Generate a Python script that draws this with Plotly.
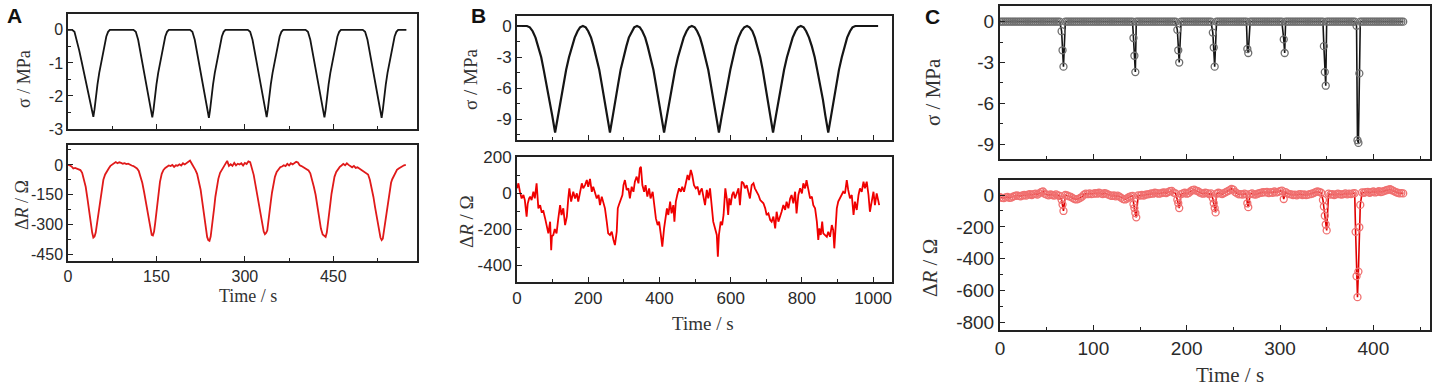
import plotly.graph_objects as go

# ---------------- Panel A ----------------
a_stress_time = [0, 7, 11, 15, 19, 23, 27, 31, 35, 38, 41, 43, 45, 47, 50, 53, 56, 59, 62, 65, 68, 71,
                 111, 115, 119, 123, 126, 129, 133, 136, 139, 141, 143, 145, 147, 150, 153, 156, 159, 162, 165, 168, 171,
                 207, 211, 215, 219, 222, 225, 229, 232, 235, 237, 239, 241, 243, 246, 249, 252, 255, 258, 261, 264, 267,
                 305, 309, 313, 317, 320, 323, 327, 330, 333, 335, 337, 339, 341, 344, 347, 350, 353, 356, 359, 362, 365,
                 403, 407, 411, 415, 418, 421, 425, 428, 431, 433, 435, 437, 439, 442, 445, 448, 451, 454, 457, 460, 463,
                 500, 504, 508, 512, 515, 518, 522, 525, 528, 530, 532, 534, 536, 539, 542, 545, 548, 551, 554, 557, 560, 574]
a_stress = [0, 0, -0.06, -0.3, -0.62, -0.95, -1.3, -1.65, -2.0, -2.3, -2.5, -2.63, -2.4, -2.05, -1.65, -1.3, -1.0, -0.7, -0.42, -0.2, -0.06, 0,
            0, -0.06, -0.3, -0.7, -1.0, -1.3, -1.7, -2.0, -2.3, -2.5, -2.65, -2.42, -2.06, -1.66, -1.3, -1.0, -0.7, -0.42, -0.2, -0.06, 0,
            0, -0.06, -0.3, -0.7, -1.0, -1.3, -1.7, -2.0, -2.3, -2.52, -2.66, -2.42, -2.06, -1.66, -1.3, -1.0, -0.7, -0.42, -0.2, -0.06, 0,
            0, -0.06, -0.3, -0.7, -1.0, -1.3, -1.7, -2.0, -2.3, -2.5, -2.64, -2.4, -2.05, -1.65, -1.3, -1.0, -0.7, -0.42, -0.2, -0.06, 0,
            0, -0.06, -0.3, -0.7, -1.0, -1.3, -1.7, -2.0, -2.3, -2.5, -2.65, -2.42, -2.06, -1.66, -1.3, -1.0, -0.7, -0.42, -0.2, -0.06, 0,
            0, -0.06, -0.3, -0.7, -1.0, -1.3, -1.7, -2.0, -2.3, -2.52, -2.66, -2.42, -2.06, -1.66, -1.3, -1.0, -0.7, -0.42, -0.2, -0.06, 0, 0]

a_res_time = [0, 3, 6, 9, 12, 15, 18, 21, 24, 27, 30, 33, 36, 39, 41, 43, 45, 47, 49, 51, 53, 55, 57, 60, 63, 66, 69, 72, 75, 78,
              81, 84, 87, 90, 93, 96, 99, 102, 105, 108, 111, 114, 117, 120, 123, 126, 129, 132, 135, 138, 140, 142, 144, 146, 148,
              150, 152, 154, 156, 159, 162, 165, 168, 171, 174, 177, 180, 183, 186, 189, 192, 195, 198, 201, 204, 207, 210, 213, 216,
              219, 222, 225, 228, 231, 234, 236, 238, 240, 242, 244, 246, 248, 250, 252, 255, 258, 261, 264, 267, 270, 273, 276, 279,
              282, 285, 288, 291, 294, 297, 300, 303, 306, 309, 312, 315, 318, 321, 324, 327, 330, 332, 334, 336, 338, 340, 342, 344,
              346, 348, 351, 354, 357, 360, 363, 366, 369, 372, 375, 378, 381, 384, 387, 390, 393, 396, 399, 402, 405, 408, 411, 414,
              417, 420, 423, 426, 429, 432, 435, 437, 439, 441, 443, 445, 447, 449, 452, 455, 458, 461, 464, 467, 470, 473, 476, 479,
              482, 485, 488, 491, 494, 497, 500, 503, 506, 509, 512, 515, 518, 521, 524, 527, 530, 532, 534, 536, 538, 540, 542, 544,
              546, 548, 550, 552, 554, 556, 558, 561, 564, 567, 570, 573]
a_res = [0, -2, -8, -18, -15, -20, -22, -26, -40, -70, -110, -170, -240, -300, -340, -365, -360, -340, -300, -255, -205, -160,
         -115, -75, -48, -30, -18, -5, 2, 10, 14, 8, 13, 10, 6, 9, 4, 6, 0, -3, -6, -10, -18, -30, -55, -90, -135, -185, -240,
         -290, -330, -352, -355, -335, -290, -235, -180, -130, -85, -45, -25, -15, -8, -3, -6, 0, -10, -2, -4, 3, -3, 8, 2, 10,
         15, 22, 6, -8, -25, -45, -80, -125, -190, -260, -330, -362, -378, -382, -360, -320, -270, -215, -160, -115, -70, -40,
         -22, -10, 5, 20, -5, 3, -5, 10, -2, 6, 2, 8, -3, 10, 4, 18, 14, -20, -50, -100, -155, -210, -258, -310, -335, -348,
         -342, -330, -290, -240, -185, -140, -100, -60, -35, -22, -12, -8, -2, -6, 5, -3, 8, 2, 10, 16, 12, -2, -6, -12, -15,
         -22, -28, -42, -70, -110, -150, -210, -270, -320, -350, -358, -362, -340, -300, -250, -195, -145, -105, -60, -35, -22,
         -10, -3, 5, -2, 8, 0, -8, -12, -5, -15, -12, -18, -20, -28, -32, -38, -48, -75, -115, -160, -215, -270, -330, -365,
         -378, -370, -330, -290, -245, -190, -150, -115, -90, -72, -60, -45, -35, -25, -18, -12, -5, -2, 0]

# ---------------- Panel B ----------------
b_stress_time = [0, 28, 36, 44, 52, 60, 68, 75, 83, 91, 99, 107,
                 115, 123, 130, 138, 146, 154, 162, 170, 177, 185,
                 193, 200, 208, 215, 223, 231, 238, 246, 253, 261,
                 269, 276, 284, 291, 299, 307, 314, 322, 329, 337,
                 345, 352, 360, 367, 375, 383, 390, 398, 405, 413,
                 421, 429, 436, 444, 452, 460, 468, 476, 483, 491,
                 499, 506, 514, 521, 529, 537, 544, 552, 559, 567,
                 575, 583, 591, 599, 607, 614, 622, 630, 638, 646,
                 653, 661, 668, 675, 683, 690, 697, 704, 712, 719,
                 727, 735, 742, 750, 758, 766, 774, 782, 789, 797,
                 805, 812, 820, 828, 836, 843, 851, 859, 866, 874,
                 882, 889, 897, 904, 912, 920, 927, 935, 942, 950, 1014]
b_stress = [0, 0, -0.13, -0.5, -1.12, -1.97, -3.02, -4.24, -5.62, -7.12, -8.69, -10.3,
            -8.69, -7.12, -5.62, -4.24, -3.02, -1.97, -1.12, -0.5, -0.13, 0,
            -0.13, -0.5, -1.12, -1.97, -3.02, -4.24, -5.62, -7.12, -8.69, -10.3,
            -8.69, -7.12, -5.62, -4.24, -3.02, -1.97, -1.12, -0.5, -0.13, 0,
            -0.13, -0.5, -1.12, -1.97, -3.02, -4.24, -5.62, -7.12, -8.69, -10.3,
            -8.69, -7.12, -5.62, -4.24, -3.02, -1.97, -1.12, -0.5, -0.13, 0,
            -0.13, -0.5, -1.12, -1.97, -3.02, -4.24, -5.62, -7.12, -8.69, -10.3,
            -8.69, -7.12, -5.62, -4.24, -3.02, -1.97, -1.12, -0.5, -0.13, 0,
            -0.13, -0.5, -1.12, -1.97, -3.02, -4.24, -5.62, -7.12, -8.69, -10.3,
            -8.69, -7.12, -5.62, -4.24, -3.02, -1.97, -1.12, -0.5, -0.13, 0,
            -0.13, -0.5, -1.12, -1.97, -3.02, -4.24, -5.62, -7.12, -8.69, -10.3,
            -8.69, -7.12, -5.62, -4.24, -3.02, -1.97, -1.12, -0.5, -0.13, 0, 0]

b_res_time = [0, 4, 8, 13, 18, 22, 27, 30, 34, 37, 41, 46, 50, 55, 60, 65, 69, 74, 79, 83, 88, 93, 96, 98, 102, 106, 111,
              116, 121, 125, 130, 135, 140, 144, 147, 152, 158, 163, 168, 172, 177, 182, 186, 191, 196, 200, 205, 210, 214,
              219, 224, 229, 233, 238, 243, 247, 252, 256, 261, 266, 271, 275, 280, 283, 286, 292, 296, 299, 303, 308, 313,
              317, 322, 327, 331, 336, 341, 345, 348, 352, 357, 361, 366, 371, 375, 381, 386, 390, 395, 399, 404, 408, 413,
              417, 421, 425, 430, 434, 439, 442, 446, 450, 455, 460, 464, 469, 474, 479, 483, 488, 492, 497, 502, 507, 512,
              514, 519, 523, 528, 533, 537, 542, 547, 551, 556, 561, 564, 567, 572, 576, 580, 582, 585, 589, 593, 596, 600,
              604, 608, 612, 617, 622, 626, 631, 636, 640, 645, 650, 654, 659, 664, 668, 673, 678, 683, 687, 692, 697, 701,
              706, 711, 715, 720, 725, 729, 734, 739, 743, 748, 753, 757, 762, 767, 771, 776, 781, 785, 790, 795, 800, 804,
              809, 813, 818, 823, 828, 832, 837, 842, 846, 849, 853, 857, 860, 865, 870, 874, 879, 884, 888, 891, 895, 898,
              902, 907, 912, 916, 921, 926, 930, 935, 940, 945, 949, 954, 959, 963, 968, 973, 977, 982, 987, 991, 996, 1001,
              1005, 1010, 1015, 1017]
b_res = [26, 54, 10, -30, -11, -39, -131, -60, -30, -20, -39, 7, -30, 54, -85, -67, -104, -100, -141, -178, -224, -159,
         -317, -240, -233, -200, -224, -141, -67, -122, -85, -178, -131, -30, 26, -48, 7, -30, -2, -48, 7, 54, 26, 44, 72,
         35, 78, 7, 35, -2, -30, -11, -67, -20, -57, -85, -159, -224, -233, -215, -261, -289, -215, -85, -67, -30, -11, 44,
         72, 17, 26, -30, 35, 7, 63, 91, 54, 137, 146, 44, 7, 44, -20, 26, -30, 7, -67, -141, -178, -159, -233, -298, -196,
         -141, -85, -122, -48, -113, -67, -159, -48, -11, 26, 7, 35, 7, 54, 100, 72, 128, 100, 44, 26, 35, -11,
         7, 26, -11, -67, 17, -30, 26, -85, -159, -196, -233, -354, -233, -159, -178, -122, -67, 26, -30, -122, -30, -67,
         -11, 7, -30, -2, 26, -67, 63, 54, 26, 44, 7, -30, 44, 54, 26, 7, -11, -39, -48, -57, -85, -122,
         -113, -150, -159, -131, -196, -104, -159, -131, -104, -67, -94, -48, -85, -30, -11, -57, 7, -113, -11, 26, -2, 54,
         26, 72, 26, -30, -20, -67, -85, -159, -261, -196, -233, -159, -224, -233, -243, -215, -243, -178, -206, -307, -159, -85,
         -48, -30, -11, 7, -2, 72, 17, -30, -11, -122, -48, -94, -11, 26, 7, 63, 26, 63, -11, -104, -48, 7,
         -67, -2, -48, -67]

# ---------------- Panel C ----------------
c_base_time = list(range(0, 433, 2))          # sampling grid of the baseline (s)
c_base_stress = [0.0] * len(c_base_time)       # stress reads 0 between loading spikes
c_base_res = [-14, -18, -20, -15, -12, -18, -16, -10,
              -6, -2, -5, -8, -3, 0, -4,
              2, 5, 0, 6, 8, 3, 10, 18, 22,
              8, 2, -2, 3, 0, -3, 4,
              -2, -6, -8, -4, 0, -3, -8, -12,
              -20, -26, -28, -24, -18, -10,
              2, 8, 5, 10, 6, 8,
              12, 8, 14, 10, 6, 12, 8,
              2, -2, -6, -3, -8, -4, -10,
              -18, -26, -28, -22,
              -14, -8, -5, -10,
              -6, -2, -4, 0, -3, 2, 4,
              6, 10, 8, 14, 12, 8, 10, 14, 16, 12,
              18, 24, 26, 15,
              10, 8, 12, 6, 10, 14, 8, 12,
              22, 30, 34, 28, 24, 16,
              10, 8, 14, 12, 6, 10, 16, 12, 8, 14, 10, 6, 12, 18, 24,
              30, 38, 34,
              18, 10, 4, 6, 2, 8, 4, 0, 6, 10, 4, 2, 8, 12,
              14, 18, 16, 20, 12, 18, 14, 22, 16, 20, 24, 28,
              26, 18, 10, 6,
              4, 0, 2, -2, 4, 6, 0, 3, -1, 2, 5, 8, 12,
              18, 22, 20, 14, 10,
              6, 4, 8, 2, 6, 0, 4, 8, 5, 2, 6, 10, 4, 8, 6, 10, 12, 8, 10,
              12, 16, 14, 18, 20, 14, 18, 22, 16, 20, 24, 18, 22, 26, 30, 34, 36,
              30, 24, 18, 14, 10, 12, 10]

c_spike_stress_time = [66, 67, 68, 143, 144, 145, 190, 191, 192, 228, 229, 230, 265, 266, 304, 305,
                       347, 348, 349, 382, 383, 384, 385]
c_spike_stress = [-0.7, -2.1, -3.3, -1.2, -2.5, -3.7, -0.6, -2.1, -3.0, -0.8, -1.9, -3.3, -2.0, -2.3, -1.3, -2.3,
                  -1.8, -3.7, -4.7, -0.3, -8.7, -8.9, -3.8]
c_spike_res_time = [66, 67, 68, 143, 144, 145, 146, 190, 191, 192, 228, 229, 230, 231, 265, 266, 304,
                    346, 347, 348, 349, 350, 381, 382, 383, 384, 385, 386]
c_spike_res = [-30, -60, -100, -58, -82, -113, -140, -30, -52, -82, -21, -52, -82, -109, -52, -76, -25,
               -31, -72, -130, -185, -222, -231, -509, -640, -480, -202, -62]


def merge(base_t, base_v, sp_t, sp_v):
    d = dict(zip(base_t, base_v))
    d.update(dict(zip(sp_t, sp_v)))
    ts = sorted(d)
    return ts, [d[t] for t in ts]


c_t1, c_stress = merge(c_base_time, c_base_stress, c_spike_stress_time, c_spike_stress)
c_t2, c_res = merge(c_base_time, c_base_res, c_spike_res_time, c_spike_res)

# ---------------- Figure ----------------
W, H = 1439, 389
BLACK = "#151515"
RED_A = "#e01a1a"
RED_B = "#f00000"

fig = go.Figure()
fig.add_trace(go.Scatter(x=a_stress_time, y=a_stress, mode="lines", line=dict(color=BLACK, width=1.8),
                         xaxis="x", yaxis="y"))
fig.add_trace(go.Scatter(x=a_res_time, y=a_res, mode="lines", line=dict(color=RED_A, width=1.8),
                         xaxis="x2", yaxis="y2"))
fig.add_trace(go.Scatter(x=b_stress_time, y=b_stress, mode="lines", line=dict(color=BLACK, width=2.2),
                         xaxis="x3", yaxis="y3"))
fig.add_trace(go.Scatter(x=b_res_time, y=b_res, mode="lines", line=dict(color=RED_B, width=1.8),
                         xaxis="x4", yaxis="y4"))
fig.add_trace(go.Scatter(x=c_t1, y=c_stress, mode="lines+markers", line=dict(color=BLACK, width=1.6),
                         marker=dict(symbol="circle-open", size=7, color="#6e6e6e",
                                     line=dict(width=1.3)),
                         xaxis="x5", yaxis="y5"))
fig.add_trace(go.Scatter(x=c_t2, y=c_res, mode="lines+markers", line=dict(color="#e00000", width=1.6),
                         marker=dict(symbol="circle-open", size=7, color="#f07070",
                                     line=dict(width=1.3)),
                         xaxis="x6", yaxis="y6"))


def px_x(a, b):
    return [a / W, b / W]


def px_y(top, bottom):
    return [1 - bottom / H, 1 - top / H]


def fmt(v):
    return "%g" % v


def axis(domain, rng, vals, minor_dtick, anchor, fsize, labels=True, lw=1.5):
    return dict(domain=domain, range=rng, anchor=anchor, showgrid=False, zeroline=False,
                automargin=False,
                showline=True, mirror=True, linecolor="#222", linewidth=lw,
                ticks="inside", ticklen=5, tickwidth=1.4, tickcolor="#222",
                tickmode="array", tickvals=vals, ticktext=[fmt(v) for v in vals],
                showticklabels=labels,
                tickfont=dict(family="Liberation Sans, Arial", size=fsize, color="#2a2a2a"),
                minor=dict(ticks="inside", ticklen=3, tickwidth=1.2, tickcolor="#222",
                           tick0=0, dtick=minor_dtick))


AX = px_x(68, 417)
BX = px_x(517, 892)
CX = px_x(1000, 1430)

fig.update_layout(
    width=W, height=H, autosize=False, showlegend=False,
    margin=dict(l=0, r=0, t=0, b=0, pad=0),
    paper_bgcolor="white", plot_bgcolor="white",
    xaxis=axis(AX, [0, 592], [0, 150, 300, 450], 75, "y", 16, labels=False),
    yaxis=axis(px_y(14, 129), [-3.0, 0.48], [0, -1, -2, -3], 0.5, "x", 16),
    xaxis2=axis(AX, [0, 592], [0, 150, 300, 450], 75, "y2", 16),
    yaxis2=axis(px_y(145, 261), [-483, 100], [0, -150, -300, -450], 75, "x2", 16),
    xaxis3=axis(BX, [0, 1053], [0, 200, 400, 600, 800, 1000], 100, "y3", 17, labels=False, lw=2),
    yaxis3=axis(px_y(16, 140), [-11.03, 0.97], [0, -3, -6, -9], 1.5, "x3", 17, lw=2),
    xaxis4=axis(BX, [0, 1053], [0, 200, 400, 600, 800, 1000], 100, "y4", 17, lw=2),
    yaxis4=axis(px_y(157, 282), [-494, 200], [200, 0, -200, -400], 100, "x4", 17, lw=2),
    xaxis5=axis(CX, [0, 460.7], [0, 100, 200, 300, 400], 50, "y5", 19, labels=False, lw=2),
    yaxis5=axis(px_y(6, 159), [-10.08, 1.15], [0, -3, -6, -9], 1.5, "x5", 19, lw=2),
    xaxis6=axis(CX, [0, 460.7], [0, 100, 200, 300, 400], 50, "y6", 19, lw=2),
    yaxis6=axis(px_y(180, 330), [-846, 94], [0, -200, -400, -600, -800], 100, "x6", 19, lw=2),
)

SERIF = "Liberation Serif, Times New Roman"
ann = []


def text(x, y, s, size, angle=0, family=SERIF, color="#333"):
    ann.append(dict(x=x / W, y=1 - y / H, xref="paper", yref="paper", text=s, showarrow=False,
                    textangle=angle, xanchor="center", yanchor="middle",
                    font=dict(family=family, size=size, color=color)))


# panel letters
text(14, 16, "<b>A</b>", 21, family="Liberation Sans, Arial", color="#111")
text(478, 16, "<b>B</b>", 21, family="Liberation Sans, Arial", color="#111")
text(932, 17, "<b>C</b>", 21, family="Liberation Sans, Arial", color="#111")

# y titles
text(24, 79, "σ / MPa", 18, angle=-90)
text(22, 205, "Δ<i>R</i> / Ω", 18, angle=-90)
text(470, 80, "σ / MPa", 19, angle=-90)
text(466, 222, "Δ<i>R</i> / Ω", 19, angle=-90)
text(933, 92, "σ / MPa", 21, angle=-90)
text(930, 268, "Δ<i>R</i> / Ω", 21, angle=-90)

# x titles
text(248, 296, "Time / s", 18)
text(703, 323, "Time / s", 19)
text(1230, 375, "Time / s", 21)

fig.update_layout(annotations=ann)
fig.write_html("out.html", config={"displayModeBar": False},
               post_script="document.body.style.margin='0';")
